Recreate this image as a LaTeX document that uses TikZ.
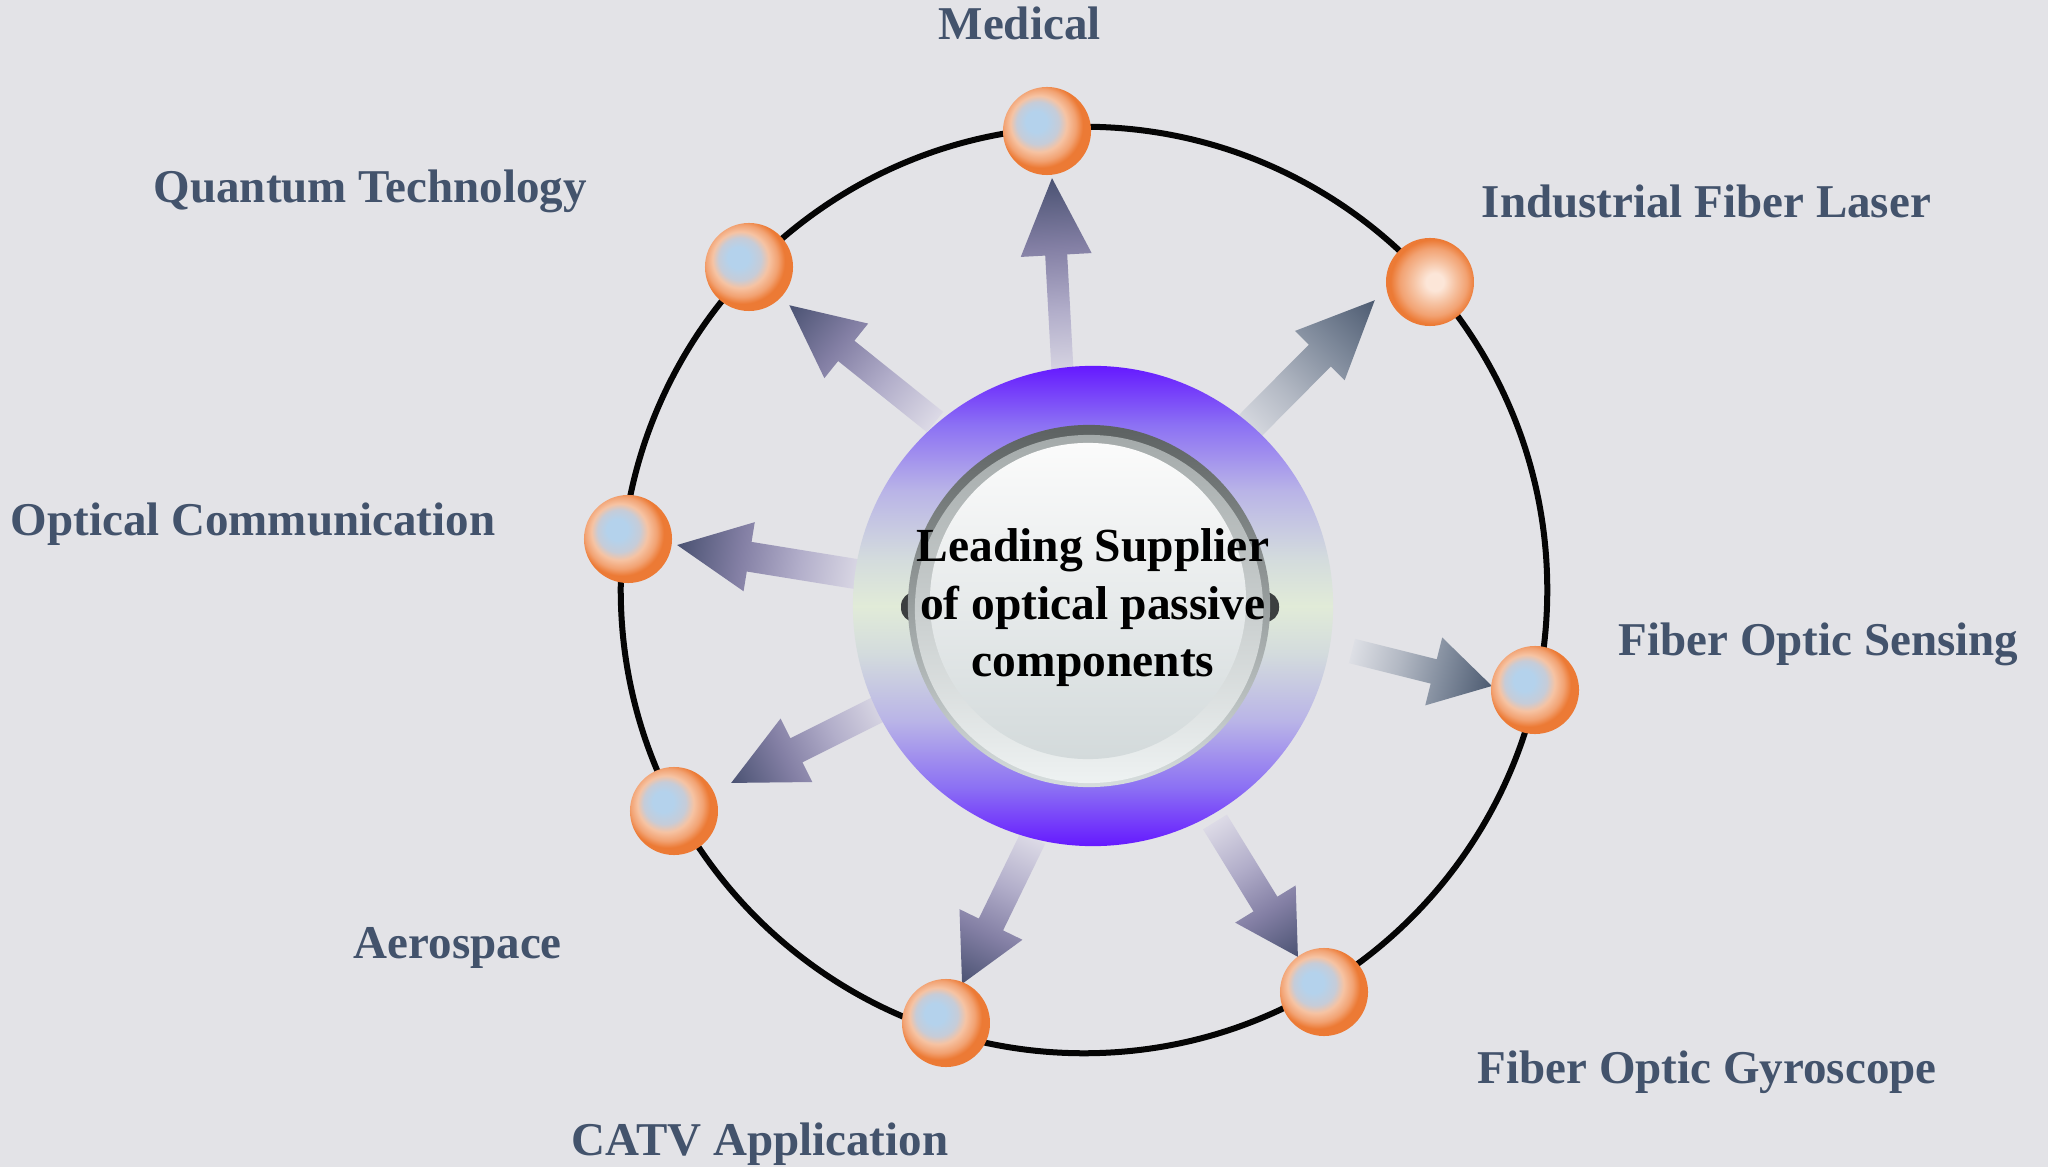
\documentclass[tikz,border=0pt]{standalone}
\usepackage{fontspec}
\setmainfont{Liberation Serif}
\usetikzlibrary{calc}

\definecolor{bgc}{HTML}{E3E3E7}
\definecolor{labelc}{HTML}{43536C}
\definecolor{ringc}{HTML}{050505}
% orb colours
\definecolor{orbblue}{HTML}{B4D2EC}
\definecolor{orbblue2}{HTML}{C6CCD8}
\definecolor{orbpeach}{HTML}{F6C3A3}
\definecolor{orbmid}{HTML}{F2A272}
\definecolor{orbor}{HTML}{EC7A35}
\definecolor{orbwhite}{HTML}{FCE6D8}
% arrow colours
\definecolor{ptail}{HTML}{DCDAE6}
\definecolor{pmid1}{HTML}{B2AECA}
\definecolor{pmid2}{HTML}{837FA4}
\definecolor{phead}{HTML}{4A5272}
\definecolor{gtail}{HTML}{DDDFE5}
\definecolor{gmid1}{HTML}{B2B8C3}
\definecolor{gmid2}{HTML}{808B9C}
\definecolor{ghead}{HTML}{4D5B71}
% hub colours
\definecolor{vio}{HTML}{6519FF}
\definecolor{vio2}{HTML}{8B6FF4}
\definecolor{lav}{HTML}{B9B4E7}
\definecolor{lavg}{HTML}{D3DBDD}
\definecolor{palegreen}{HTML}{E1EBD8}
\definecolor{rimtop}{HTML}{5C6161}
\definecolor{rimbot}{HTML}{D6DDDD}
\definecolor{rim2top}{HTML}{A4AAAA}
\definecolor{rim2bot}{HTML}{EEF2F2}
\definecolor{facetop}{HTML}{FBFBFB}
\definecolor{facebot}{HTML}{D3DADB}
\definecolor{blobc}{HTML}{3C3F40}

\pgfdeclareradialshading{orb}{\pgfpoint{-7bp}{6bp}}{color(0bp)=(orbblue); color(6bp)=(orbblue); color(12bp)=(orbblue2); color(16bp)=(orbpeach); color(20.5bp)=(orbmid); color(24bp)=(orbor); color(25bp)=(orbor); color(50bp)=(orbor)}
\pgfdeclareradialshading{orbw}{\pgfpoint{3bp}{0bp}}{color(0bp)=(orbwhite); color(5bp)=(orbwhite); color(12bp)=(orbpeach); color(19bp)=(orbmid); color(24bp)=(orbor); color(25bp)=(orbor); color(50bp)=(orbor)}
\pgfdeclarehorizontalshading{arrowpurple}{100bp}{color(0bp)=(ptail); color(25bp)=(ptail); color(42bp)=(pmid1); color(58bp)=(pmid2); color(75bp)=(phead); color(100bp)=(phead)}
\pgfdeclarehorizontalshading{arrowgray}{100bp}{color(0bp)=(gtail); color(25bp)=(gtail); color(42bp)=(gmid1); color(58bp)=(gmid2); color(75bp)=(ghead); color(100bp)=(ghead)}
\pgfdeclareverticalshading{ringshade}{100bp}{color(0bp)=(vio); color(25bp)=(vio); color(31bp)=(vio2); color(38bp)=(lav); color(45bp)=(lavg); color(50bp)=(palegreen); color(55bp)=(lavg); color(62bp)=(lav); color(69bp)=(vio2); color(75bp)=(vio); color(100bp)=(vio)}

\makeatletter
% #1 tail coordinate, #2 tip coordinate, #3 half shaft width, #4 half head width, #5 head length (px), #6 shading
\newcommand\flowarrow[6]{%
  \pgfmathanglebetweenpoints{\pgfpointanchor{#1}{center}}{\pgfpointanchor{#2}{center}}%
  \let\flang\pgfmathresult
  \pgfpointdiff{\pgfpointanchor{#1}{center}}{\pgfpointanchor{#2}{center}}%
  \pgfmathveclen{\pgf@x}{\pgf@y}%
  \pgfmathsetmacro\fllen{\pgfmathresult/0.284528}%
  \begin{scope}[transform canvas={shift={(#1)},rotate=\flang}]
    \shade[shading=#6] (0,-#3) -- ({\fllen-#5},-#3) -- ({\fllen-#5},-#4)
      -- (\fllen,0) -- ({\fllen-#5},#4) -- ({\fllen-#5},#3) -- (0,#3) -- cycle;
  \end{scope}}
\makeatother

\tikzset{
  orbnode/.style={circle, minimum size=0.88cm, inner sep=0pt, shade, shading=orb},
  orbwnode/.style={circle, minimum size=0.88cm, inner sep=0pt, shade, shading=orbw},
  lbl/.style={text=labelc, font=\fontsize{13.37}{16}\selectfont\bfseries, inner sep=0pt, anchor=base west},
}

\begin{document}
\begin{tikzpicture}[x=0.01cm, y=-0.01cm]
\useasboundingbox (0,0) rectangle (2048,1167);
\fill[bgc] (0,0) rectangle (2048,1167);

% outer ring
\coordinate (ringc) at (1084,590);
\draw[ringc, line width=0.06cm] (ringc) circle[radius=4.63cm];

% arrow end points
\coordinate (t1) at (1063,380); \coordinate (p1) at (1052,178);
\coordinate (t2) at (935,422);  \coordinate (p2) at (789,305);
\coordinate (t3) at (1240,436); \coordinate (p3) at (1375,300);
\coordinate (t4) at (862,575);  \coordinate (p4) at (677,545);
\coordinate (t5) at (1352,651); \coordinate (p5) at (1492,686);
\coordinate (t6) at (885,706);  \coordinate (p6) at (731,783);
\coordinate (t7) at (1033,838); \coordinate (p7) at (962,984);
\coordinate (t8) at (1215,822); \coordinate (p8) at (1298,957);

\flowarrow{t1}{p1}{11}{35.5}{77}{arrowpurple}
\flowarrow{t2}{p2}{13}{35}{73}{arrowpurple}
\flowarrow{t3}{p3}{15.5}{35}{78}{arrowgray}
\flowarrow{t4}{p4}{15}{35}{73}{arrowpurple}
\flowarrow{t5}{p5}{12.5}{35}{60}{arrowgray}
\flowarrow{t6}{p6}{13.5}{35.5}{73}{arrowpurple}
\flowarrow{t7}{p7}{13.5}{35}{66}{arrowpurple}
\flowarrow{t8}{p8}{14}{35.5}{62}{arrowpurple}

% central hub
\node[circle, minimum size=4.8cm, inner sep=0pt, shade, shading=ringshade] (hub) at (1093,606) {};
\fill[blobc, rounded corners=0.14cm] (901,592) rectangle (1279,622);
\node[circle, minimum size=3.62cm, inner sep=0pt, top color=rimtop, bottom color=rimbot] (rimA) at (1089,606) {};
\node[circle, minimum size=3.48cm, inner sep=0pt, top color=rim2top, bottom color=rim2bot] (rimB) at (1089,609) {};
\node[circle, minimum size=3.16cm, inner sep=0pt, top color=facetop, bottom color=facebot] (face) at (1088,601) {};
\node[align=center, inner sep=0pt, text=black, font=\fontsize{13.5}{16.36}\selectfont\bfseries] (txt) at (1093,608)
  {Leading Supplier\\of optical passive\\components};

% application balls
\node[orbnode]  (b1) at (1047,131) {};
\node[orbnode]  (b2) at (749,267) {};
\node[orbwnode] (b3) at (1430,282) {};
\node[orbnode]  (b4) at (628,539) {};
\node[orbnode]  (b5) at (1535,690) {};
\node[orbnode]  (b6) at (674,811) {};
\node[orbnode]  (b7) at (946,1023) {};
\node[orbnode]  (b8) at (1324,992) {};

% labels
\node[lbl] (l1) at (938,40) {Medical};
\node[lbl] (l2) at (153,203) {Quantum Technology};
\node[lbl] (l3) at (1481,218) {Industrial Fiber Laser};
\node[lbl] (l4) at (10,536) {Optical Communication};
\node[lbl] (l5) at (1618,656) {Fiber Optic Sensing};
\node[lbl] (l6) at (353,958) {Aerospace};
\node[lbl] (l7) at (571,1155) {CATV Application};
\node[lbl] (l8) at (1477,1083) {Fiber Optic Gyroscope};
\end{tikzpicture}
\end{document}
